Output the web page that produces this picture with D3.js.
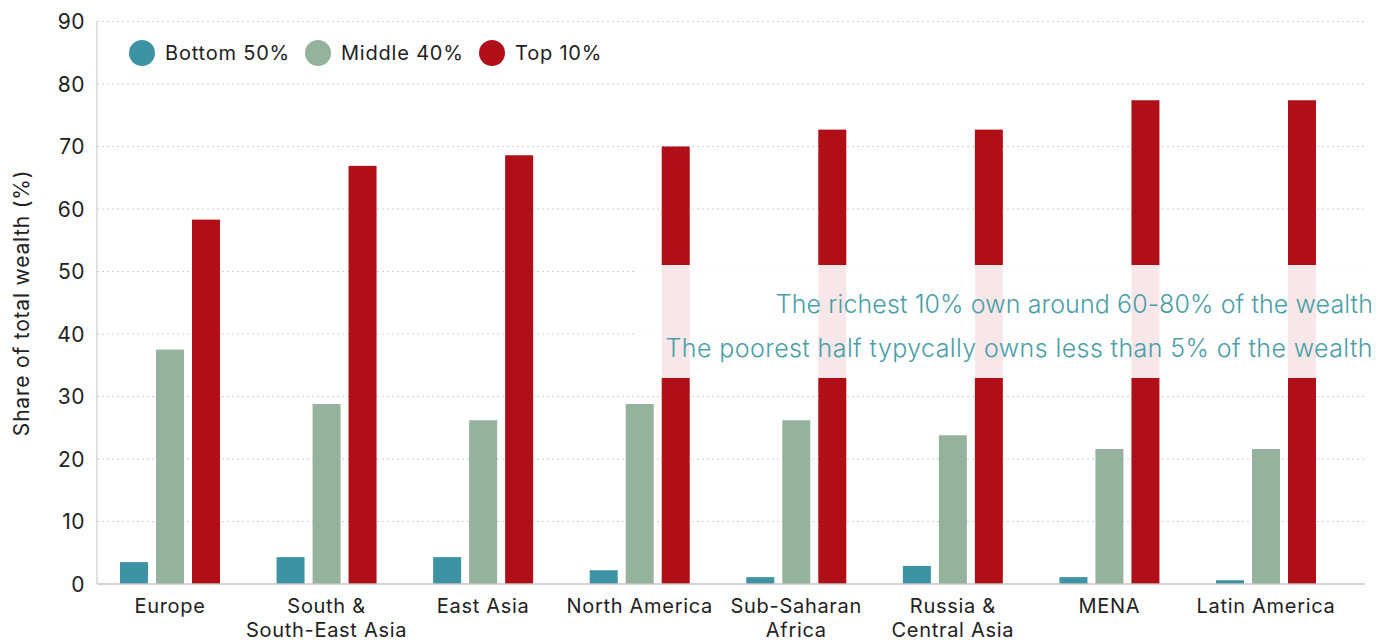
<!DOCTYPE html>
<html>
<head>
<meta charset="utf-8">
<script src="https://cdn.jsdelivr.net/npm/d3@7"></script>
<style>
  body { margin: 0; background: #fff; }
  svg { display: block; font-family: "Inter", "Lato", sans-serif; }
</style>
</head>
<body>
<script>
const regions = ["Europe", "South &\nSouth-East Asia", "East Asia", "North America", "Sub-Saharan\nAfrica", "Russia &\nCentral Asia", "MENA", "Latin America"];
const seriesNames = ["Bottom 50%", "Middle 40%", "Top 10%"];
const bottom50 = [3.5, 4.3, 4.3, 2.2, 1.1, 2.9, 1.1, 0.6];
const middle40 = [37.5, 28.8, 26.2, 28.8, 26.2, 23.8, 21.6, 21.6];
const top10 = [58.3, 66.9, 68.6, 70.0, 72.7, 72.7, 77.4, 77.4];
const yTicks = [0, 10, 20, 30, 40, 50, 60, 70, 80, 90];
const colors = ["#3d93a3", "#95b39c", "#b10f17"];
const notes = ["The richest 10% own around 60-80% of the wealth", "The poorest half typycally owns less than 5% of the wealth"];

const W = 1391, H = 641;
const plotLeft = 97, plotRight = 1365, plotTop = 21.5, base = 584;

const svg = d3.select("body").append("svg").attr("width", W).attr("height", H);

const y = d3.scaleLinear().domain([0, 90]).range([base, plotTop]);
const x0 = d3.scaleBand().domain(regions).range([91.7, 1344.3]).padding(0);
const x1 = d3.scaleBand().domain(seriesNames).range([0, 100]).paddingInner(8 / 36).paddingOuter(0);

// grid
svg.append("g").selectAll("line").data(yTicks.slice(1)).enter().append("line")
  .attr("x1", plotLeft).attr("x2", plotRight)
  .attr("y1", d => y(d)).attr("y2", d => y(d))
  .attr("stroke", "#cfcfcf").attr("stroke-dasharray", "2,3");

// y tick labels
svg.append("g").selectAll("text").data(yTicks).enter().append("text")
  .attr("x", 85).attr("y", d => y(d)).attr("dy", "0.36em")
  .attr("text-anchor", "end").attr("font-size", 21).attr("fill", "#222")
  .style("letter-spacing", "0.5px")
  .text(d => d);

// bars
const rows = regions.map((r, i) => ({ region: r, vals: [bottom50[i], middle40[i], top10[i]] }));
const groups = svg.append("g").selectAll("g").data(rows).enter().append("g")
  .attr("transform", d => "translate(" + (x0(d.region) + x0.bandwidth() / 2 - 50) + ",0)");
groups.selectAll("rect").data(d => d.vals.map((v, j) => ({ s: seriesNames[j], v: v, j: j }))).enter().append("rect")
  .attr("x", d => x1(d.s)).attr("width", x1.bandwidth())
  .attr("y", d => y(d.v)).attr("height", d => base - y(d.v))
  .attr("fill", d => colors[d.j]);

// axes lines
svg.append("line").attr("x1", plotLeft).attr("x2", plotLeft).attr("y1", plotTop).attr("y2", base).attr("stroke", "#c4c4c4");
svg.append("line").attr("x1", plotLeft).attr("x2", plotRight).attr("y1", base).attr("y2", base).attr("stroke", "#c4c4c4").attr("stroke-width", 1.5);

// x labels
const xl = svg.append("g").selectAll("text").data(regions).enter().append("text")
  .attr("x", d => x0(d) + x0.bandwidth() / 2)
  .attr("y", 613).attr("text-anchor", "middle").attr("font-size", 20).attr("fill", "#222")
  .style("letter-spacing", "0.7px");
xl.selectAll("tspan").data(d => d.split("\n")).enter().append("tspan")
  .attr("x", function () { return d3.select(this.parentNode).attr("x"); })
  .attr("dy", (d, i) => i ? 24 : 0)
  .text(d => d);

// y label
svg.append("text")
  .attr("transform", "translate(29,303) rotate(-90)")
  .attr("text-anchor", "middle").attr("font-size", 21).attr("fill", "#222")
  .style("letter-spacing", "0.8px")
  .text("Share of total wealth (%)");

// legend
const lx = [142, 318, 492];
const leg = svg.append("g").selectAll("g").data(seriesNames).enter().append("g")
  .attr("transform", (d, i) => "translate(" + lx[i] + ",53)");
leg.append("circle").attr("r", 13).attr("fill", (d, i) => colors[i]);
leg.append("text").attr("x", 23).attr("dy", "0.36em").attr("font-size", 20).attr("fill", "#222")
  .style("letter-spacing", "0.8px").text(d => d);

// annotation overlay
svg.append("rect").attr("x", 637).attr("y", 265).attr("width", W - 637).attr("height", 113)
  .attr("fill", "#fff").attr("opacity", 0.9);
svg.append("g").selectAll("text").data(notes).enter().append("text")
  .attr("x", 1373).attr("y", (d, i) => 313 + i * 44)
  .attr("text-anchor", "end").attr("font-size", 25).attr("font-weight", 300)
  .style("letter-spacing", (d, i) => i ? "0.4px" : "0.1px")
  .attr("fill", "#4a9ea8")
  .text(d => d);
</script>
</body>
</html>
